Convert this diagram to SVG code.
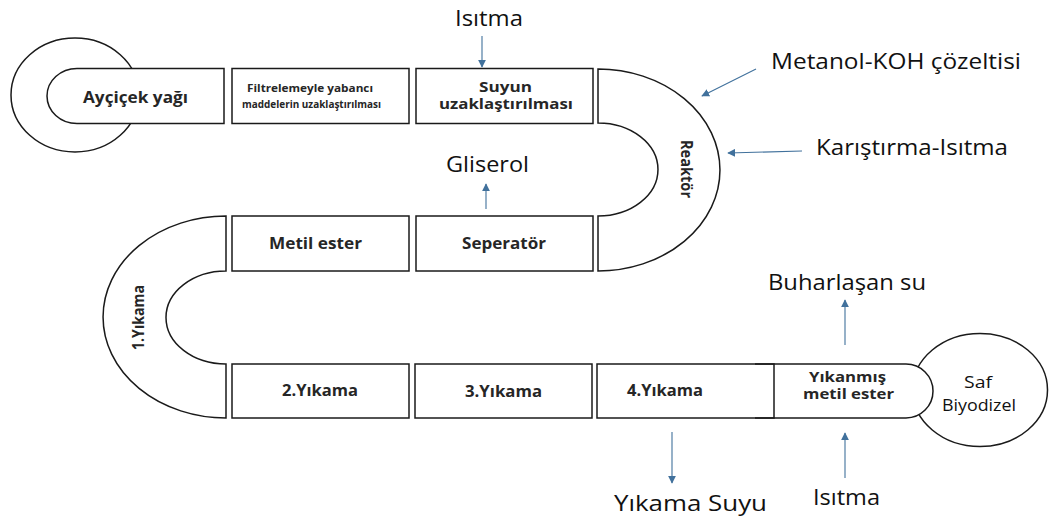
<svg xmlns="http://www.w3.org/2000/svg" width="1049" height="520" viewBox="0 0 1049 520">
<style>
.shape{fill:#fff;stroke:#1a1a1a;stroke-width:1.5}
.lbl{font-family:"Open Sans","Noto Sans",sans-serif;font-weight:bold;fill:#262626;text-anchor:middle;dominant-baseline:central}
.txt{font-family:"Open Sans","Noto Sans",sans-serif;fill:#111;text-anchor:middle;dominant-baseline:central}
.arr{stroke:#41719c;stroke-width:1.1;fill:none;marker-end:url(#ah)}
</style>
<defs>
<marker id="ah" viewBox="0 0 10 10" refX="9" refY="5" markerWidth="8" markerHeight="8" markerUnits="userSpaceOnUse" orient="auto">
<path d="M0,0 L10,5 L0,10 Z" fill="#41719c"/>
</marker>
</defs>
<rect width="1049" height="520" fill="#fff"/>

<g id="aycicek">
<ellipse class="shape" cx="75" cy="95" rx="64" ry="57"/>
<path class="shape" d="M224,68.5 L77,68.5 A30,27.5 0 0 0 77,123.5 L224,123.5 Z"/>
<text class="lbl" x="135.5" y="96" font-size="16.5" textLength="105" lengthAdjust="spacingAndGlyphs">Ayçiçek yağı</text>
</g>

<g id="filtreleme">
<rect class="shape" x="232" y="68.5" width="177" height="55"/>
<text class="lbl" x="310" y="88" font-size="10" textLength="126" lengthAdjust="spacingAndGlyphs">Filtrelemeyle yabancı</text>
<text class="lbl" x="311.5" y="104" font-size="10" textLength="139" lengthAdjust="spacingAndGlyphs">maddelerin uzaklaştırılması</text>
</g>

<g id="suyun">
<rect class="shape" x="416" y="68.5" width="177" height="55"/>
<text class="lbl" x="505.5" y="86.5" font-size="13.5" textLength="53" lengthAdjust="spacingAndGlyphs">Suyun</text>
<text class="lbl" x="506" y="104" font-size="13.5" textLength="134" lengthAdjust="spacingAndGlyphs">uzaklaştırılması</text>
</g>

<g id="reaktor">
<path class="shape" d="M598,69 A122,101 0 0 1 598,271 L598,216 A60,46.5 0 0 0 598,123 Z"/>
<text class="lbl" font-size="16" transform="translate(687,169) rotate(90)" textLength="58" lengthAdjust="spacingAndGlyphs">Reaktör</text>
</g>

<g id="seperator">
<rect class="shape" x="416" y="216" width="177" height="55"/>
<text class="lbl" x="504" y="242" font-size="16.5" textLength="84" lengthAdjust="spacingAndGlyphs">Seperatör</text>
</g>

<g id="metilester">
<rect class="shape" x="232" y="216" width="177" height="55"/>
<text class="lbl" x="315.5" y="242" font-size="16.5" textLength="93" lengthAdjust="spacingAndGlyphs">Metil ester</text>
</g>

<g id="yikama1">
<path class="shape" d="M226,216 A123,101 0 0 0 226,418 L226,364 A60,46.5 0 0 1 226,271 Z"/>
<text class="lbl" font-size="16" transform="translate(138,317.5) rotate(-90)" textLength="65" lengthAdjust="spacingAndGlyphs">1.Yıkama</text>
</g>

<g id="yikama2">
<rect class="shape" x="232" y="364" width="177" height="54"/>
<text class="lbl" x="320" y="389" font-size="16.5" textLength="76" lengthAdjust="spacingAndGlyphs">2.Yıkama</text>
</g>

<g id="yikama3">
<rect class="shape" x="415" y="364" width="177" height="54"/>
<text class="lbl" x="503.5" y="390" font-size="16.5" textLength="77" lengthAdjust="spacingAndGlyphs">3.Yıkama</text>
</g>

<g id="safbiyodizel">
<ellipse class="shape" cx="980" cy="390" rx="67.5" ry="56.5"/>
<text class="txt" x="978" y="381" font-size="17" textLength="28" lengthAdjust="spacingAndGlyphs">Saf</text>
<text class="txt" x="979" y="404" font-size="17" textLength="74" lengthAdjust="spacingAndGlyphs">Biyodizel</text>
</g>

<g id="yikanmis">
<path d="M755,364 L906,364 A27,27 0 0 1 906,418 L755,418 Z" fill="#fff" stroke="none"/>
<path d="M755,364 L906,364 A27,27 0 0 1 906,418 L755,418" fill="none" stroke="#1a1a1a" stroke-width="1.5"/>
<text class="lbl" x="847.5" y="376.5" font-size="13.5" textLength="77" lengthAdjust="spacingAndGlyphs">Yıkanmış</text>
<text class="lbl" x="848.5" y="394" font-size="13.5" textLength="91" lengthAdjust="spacingAndGlyphs">metil ester</text>
</g>

<g id="yikama4">
<rect x="597" y="364" width="177" height="54" fill="none" stroke="#1a1a1a" stroke-width="1.5"/>
<text class="lbl" x="665" y="389" font-size="16.5" textLength="76" lengthAdjust="spacingAndGlyphs">4.Yıkama</text>
</g>

<g id="labels">
<text class="txt" x="489" y="17" font-size="22" textLength="68" lengthAdjust="spacingAndGlyphs">Isıtma</text>
<text class="txt" x="896" y="60" font-size="22" textLength="250" lengthAdjust="spacingAndGlyphs">Metanol-KOH çözeltisi</text>
<text class="txt" x="912" y="146" font-size="22" textLength="192" lengthAdjust="spacingAndGlyphs">Karıştırma-Isıtma</text>
<text class="txt" x="487.5" y="163" font-size="22" textLength="83" lengthAdjust="spacingAndGlyphs">Gliserol</text>
<text class="txt" x="847" y="281" font-size="22" textLength="158" lengthAdjust="spacingAndGlyphs">Buharlaşan su</text>
<text class="txt" x="690.5" y="502" font-size="22" textLength="153" lengthAdjust="spacingAndGlyphs">Yıkama Suyu</text>
<text class="txt" x="846.5" y="496" font-size="22" textLength="67" lengthAdjust="spacingAndGlyphs">Isıtma</text>
</g>

<g id="connectors">
<line class="arr" x1="482" y1="36" x2="482" y2="67"/>
<line class="arr" x1="486" y1="209" x2="486" y2="184"/>
<line class="arr" x1="756" y1="69" x2="702" y2="96"/>
<line class="arr" x1="802" y1="151" x2="728" y2="153"/>
<line class="arr" x1="845" y1="345" x2="845" y2="300"/>
<line class="arr" x1="672" y1="432" x2="672" y2="483"/>
<line class="arr" x1="845" y1="478" x2="845" y2="433"/>
</g>
</svg>
